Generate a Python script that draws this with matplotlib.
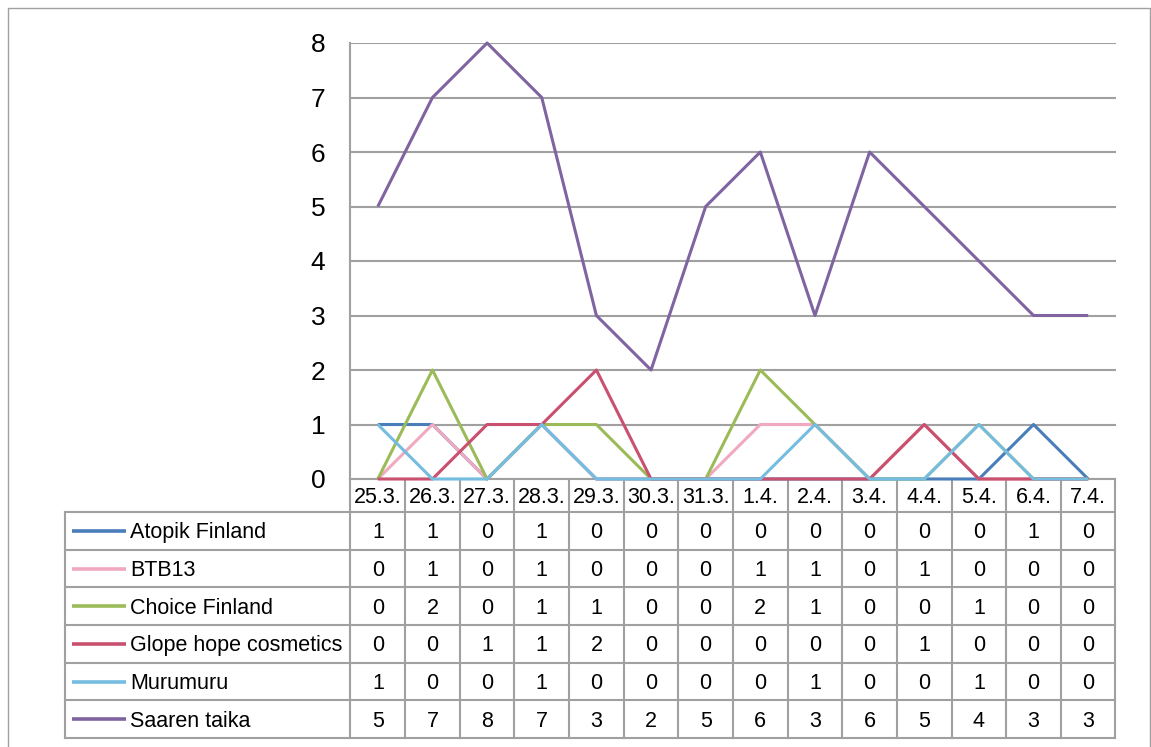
import numpy as np
import matplotlib
matplotlib.use("Agg")
import matplotlib.pyplot as plt
from matplotlib.patches import Rectangle
from matplotlib.transforms import blended_transform_factory

plt.rcParams["font.family"] = ["Liberation Sans", "DejaVu Sans"]

dates = ["25.3.", "26.3.", "27.3.", "28.3.", "29.3.", "30.3.", "31.3.",
         "1.4.", "2.4.", "3.4.", "4.4.", "5.4.", "6.4.", "7.4."]

atopik = [1, 1, 0, 1, 0, 0, 0, 0, 0, 0, 0, 0, 1, 0]
btb13 = [0, 1, 0, 1, 0, 0, 0, 1, 1, 0, 1, 0, 0, 0]
choice = [0, 2, 0, 1, 1, 0, 0, 2, 1, 0, 0, 1, 0, 0]
glope = [0, 0, 1, 1, 2, 0, 0, 0, 0, 0, 1, 0, 0, 0]
murumuru = [1, 0, 0, 1, 0, 0, 0, 0, 1, 0, 0, 1, 0, 0]
saaren = [5, 7, 8, 7, 3, 2, 5, 6, 3, 6, 5, 4, 3, 3]

names = ["Atopik Finland", "BTB13", "Choice Finland",
         "Glope hope cosmetics", "Murumuru", "Saaren taika"]
series = [atopik, btb13, choice, glope, murumuru, saaren]
colors = ["#4A7EBB", "#F0A9BF", "#9BBB59", "#C9506F", "#75BDE0", "#8064A2"]

W, H = 1151, 747
grid_c = "#A0A0A0"
fig = plt.figure(figsize=(W / 100, H / 100), dpi=100)

# background layer in pixel coordinates (frame + table)
bg = fig.add_axes([0, 0, 1, 1])
bg.set_xlim(0, W)
bg.set_ylim(H, 0)
bg.axis("off")
bg.add_patch(Rectangle((8, 8), 1142, 800, fill=False, edgecolor=grid_c, lw=1))

x_left, x_right = 350.5, 1115.5
y_top, y_zero = 43, 479
ax = fig.add_axes([x_left / W, 1 - y_zero / H, (x_right - x_left) / W, (y_zero - y_top) / H])

x = np.arange(len(dates))
for vals, c in zip(series, colors):
    ax.plot(x, vals, color=c, lw=2.2, solid_capstyle="butt", clip_on=False, zorder=3)

ax.set_xlim(-0.5, len(dates) - 0.5)
ax.set_ylim(0, 8)
ax.set_yticks(range(0, 9))
ax.set_xticks([])
ax.tick_params(axis="y", length=0, pad=18, labelsize=19)
ax.yaxis.grid(True, color=grid_c, lw=1.5)
ax.set_axisbelow(True)
for s in ["top", "right"]:
    ax.spines[s].set_visible(False)
for s in ["left", "bottom"]:
    ax.spines[s].set_color(grid_c)
    ax.spines[s].set_linewidth(1.5)

# data table under the chart
tr = blended_transform_factory(ax.transData, bg.transData)
y_head = 512
y_bottom = 738
row_h = (y_bottom - y_head) / len(names)
lab_left = 65
fs = 15.5
base = 7.5  # baseline offset below the cell centre

bounds = np.arange(len(dates) + 1) - 0.5
for b in bounds:
    bg.plot([b, b], [y_zero, y_bottom], color=grid_c, lw=1.5, transform=tr, clip_on=False)
bg.plot([lab_left, lab_left], [y_head, y_bottom], color=grid_c, lw=1.5)
for i in range(len(names) + 1):
    yy = y_head + i * row_h
    bg.plot([lab_left, x_right], [yy, yy], color=grid_c, lw=1.5)

for i, d in enumerate(dates):
    bg.text(i, (y_zero + y_head) / 2 + base, d, transform=tr, ha="center", va="baseline", fontsize=fs)

for r, (nm, vals, c) in enumerate(zip(names, series, colors)):
    yc = y_head + (r + 0.5) * row_h
    bg.plot([72, 126], [yc, yc], color=c, lw=2.6, solid_capstyle="butt")
    bg.text(130, yc + base, nm, ha="left", va="baseline", fontsize=fs)
    for i, v in enumerate(vals):
        bg.text(i, yc + base, str(v), transform=tr, ha="center", va="baseline", fontsize=fs)

plt.savefig("out.png", dpi=100)
